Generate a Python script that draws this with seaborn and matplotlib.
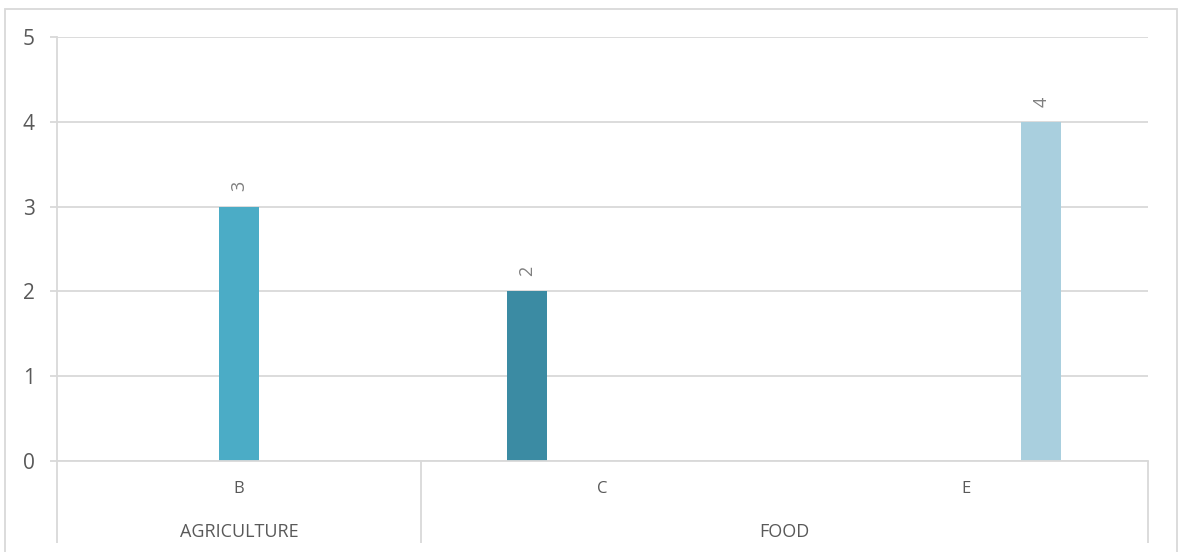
import matplotlib
matplotlib.use("Agg")
import matplotlib.pyplot as plt
from matplotlib.patches import Rectangle
import seaborn as sns
import pandas as pd

# Chart data
categories = ["B", "C", "E"]
groups = ["AGRICULTURE", "FOOD", "FOOD"]
series = ["Series 2", "Series 1", "Series 3"]
values = [3, 2, 4]
series_order = ["Series 1", "Series 2", "Series 3"]
series_colors = ["#3B8BA3", "#4BACC6", "#A9CFDE"]
y_ticks = [0, 1, 2, 3, 4, 5]

df = pd.DataFrame({"category": categories, "group": groups,
                   "series": series, "value": values})

sns.set_theme(style="white")
plt.rcParams["font.family"] = ["Open Sans", "DejaVu Sans"]

W, H, DPI = 1178, 552, 100
fig = plt.figure(figsize=(W / DPI, H / DPI), dpi=DPI)
ax = fig.add_axes([57 / W, (H - 461) / H, (1148 - 57) / W, (461 - 37) / H])

grid_c = "#D9D9D9"
text_c = "#595959"

sns.barplot(data=df, x="category", y="value", hue="series",
            hue_order=series_order, order=categories,
            palette=series_colors, width=0.62, gap=0.47,
            dodge=True, legend=False, ax=ax, saturation=1, linewidth=0)

for cont in ax.containers:
    ax.bar_label(cont, labels=[f"{v:g}" if v == v else "" for v in cont.datavalues],
                 rotation=90, padding=11, color="#7F7F7F", fontsize=13)

ax.set_xlim(-0.5, len(categories) - 0.5)
ax.set_ylim(0, 5)
ax.set_yticks(y_ticks)
ax.yaxis.grid(True, color=grid_c, linewidth=1.3)
ax.set_axisbelow(True)
ax.tick_params(axis="y", length=5, width=1.3, color=grid_c, pad=11,
               labelsize=15, labelcolor=text_c, left=True)
ax.set_xlabel("")
ax.set_ylabel("")
ax.set_xticks([])
for s in ["top", "right"]:
    ax.spines[s].set_visible(False)
ax.spines["left"].set_color(grid_c)
ax.spines["left"].set_linewidth(1.3)
ax.spines["bottom"].set_color(grid_c)
ax.spines["bottom"].set_linewidth(1.3)

# Two-level category axis below the plot
tr = ax.get_xaxis_transform()
depth = -(543 - 461) / (461 - 37)
for i, c in enumerate(categories):
    ax.text(i, -(489 - 461) / (461 - 37), c, transform=tr, ha="center",
            va="center", fontsize=12, color=text_c)

group_names = list(dict.fromkeys(groups))
bounds = [-0.5]
for g in group_names:
    idx = [i for i, gg in enumerate(groups) if gg == g]
    lo, hi = min(idx) - 0.5, max(idx) + 0.5
    ax.text((lo + hi) / 2, -(532 - 461) / (461 - 37), g, transform=tr,
            ha="center", va="center", fontsize=13, color=text_c)
    bounds.append(hi)
for b in bounds:
    ax.plot([b, b], [0, depth], transform=tr, color=grid_c, lw=1.3,
            clip_on=False, solid_capstyle="butt")

# Chart area border
fig.add_artist(Rectangle((5 / W, -10 / H), (1177 - 5) / W, (H - 9 + 10) / H,
                         transform=fig.transFigure, fill=False,
                         edgecolor=grid_c, linewidth=1.3))

fig.savefig("out.png", dpi=DPI, facecolor="white")
